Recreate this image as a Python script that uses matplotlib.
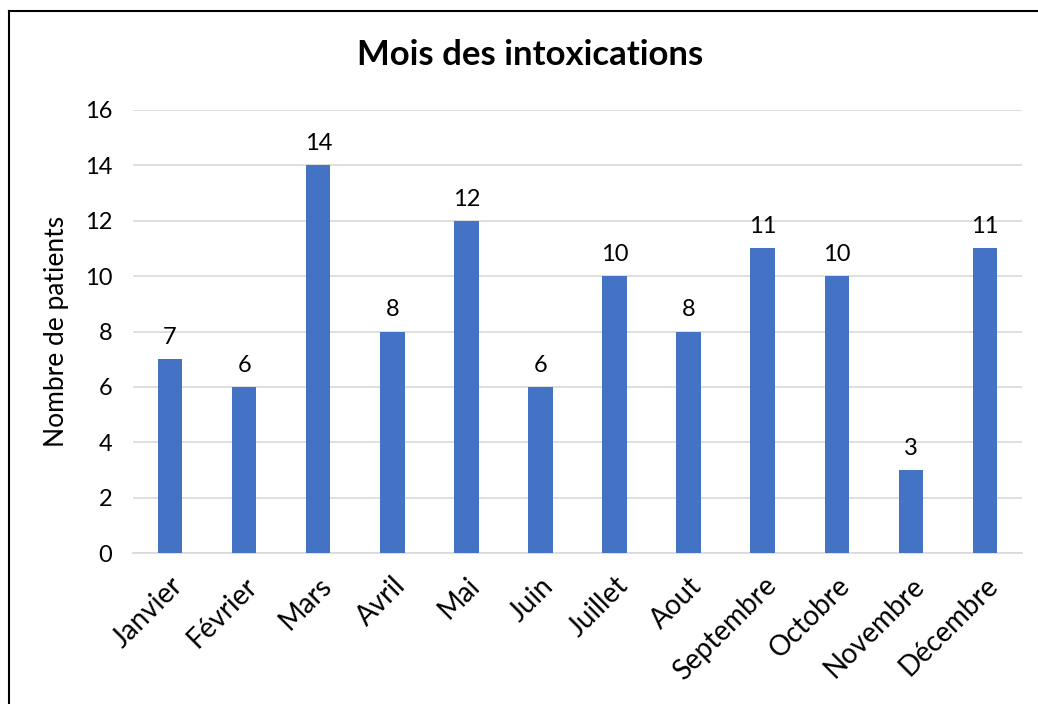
import matplotlib
matplotlib.use('Agg')
import matplotlib.pyplot as plt
from matplotlib.lines import Line2D

plt.rcParams['font.family'] = ['Lato', 'DejaVu Sans']

# data
mois = ['Janvier', 'Février', 'Mars', 'Avril', 'Mai', 'Juin', 'Juillet',
        'Aout', 'Septembre', 'Octobre', 'Novembre', 'Décembre']
patients = [7, 6, 14, 8, 12, 6, 10, 8, 11, 10, 3, 11]
y_ticks = [0, 2, 4, 6, 8, 10, 12, 14, 16]

fig = plt.figure(figsize=(10.38, 7.04), dpi=100)
ax = fig.add_axes([133 / 1038, 1 - 553 / 704, (1022 - 133) / 1038, (553 - 110) / 704])

x = range(len(mois))
bars = ax.bar(x, patients, width=0.33, color='#4472C4', zorder=3)
ax.bar_label(bars, padding=8, fontsize=17)

ax.set_xlim(-0.5, len(mois) - 0.5)
ax.set_ylim(0, 16)
ax.set_yticks(y_ticks)
ax.set_xticks(list(x))
ax.set_xticklabels(mois, rotation=45, ha='right', rotation_mode='anchor', fontsize=20)
ax.tick_params(axis='y', labelsize=17, length=0, pad=15)
ax.tick_params(axis='x', length=0, pad=14)
ax.grid(axis='y', color='#D9D9D9', linewidth=1.2, zorder=0)
for s in ['top', 'right', 'left']:
    ax.spines[s].set_visible(False)
ax.spines['bottom'].set_color('#D9D9D9')
ax.spines['bottom'].set_linewidth(1.2)

ax.set_ylabel('Nombre de patients', fontsize=19, labelpad=11)
fig.text(530 / 1038, 1 - 55 / 704, 'Mois des intoxications', fontsize=25,
         fontweight='bold', ha='center', va='center')

# border lines of the chart frame
fig.add_artist(Line2D([9 / 1038, 9 / 1038], [0, 1 - 11 / 704], transform=fig.transFigure,
                      color='black', linewidth=1.5))
fig.add_artist(Line2D([9 / 1038, 1], [1 - 11 / 704, 1 - 11 / 704], transform=fig.transFigure,
                      color='black', linewidth=1.5))

fig.savefig('out.png', dpi=100)
